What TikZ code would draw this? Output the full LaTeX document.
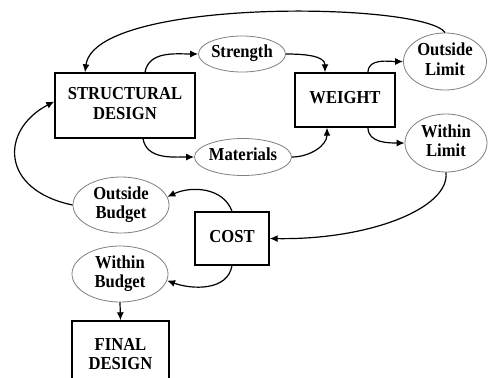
\documentclass[tikz,border=0pt]{standalone}
\usepackage{fontspec}
\usepackage{graphicx}
\setmainfont{Liberation Serif}
\usetikzlibrary{arrows.meta,shapes.geometric}
\newcommand\vtx[1]{\scalebox{1}[1.1]{\begin{tabular}{@{}c@{}}#1\end{tabular}}}
\begin{document}
\begin{tikzpicture}[x=1pt,y=-1pt,
  every node/.style={font=\fontsize{16.6}{18}\selectfont\bfseries, align=center, inner sep=0pt},
  boxnode/.style={draw=black, line width=1.4pt, rectangle},
  ellnode/.style={draw=black!50, line width=0.8pt, ellipse},
  conn/.style={draw=black, line width=1.2pt, -{Latex[length=8pt,width=7pt]}}]
\useasboundingbox (0,0) rectangle (488,378);
\clip (0,0) rectangle (488,378);
\fill[white] (0,0) rectangle (488,378);
% nodes
\node[boxnode, minimum width=140pt, minimum height=65pt] (sd) at (125,105.5) {\vtx{STRUCTURAL\\DESIGN}};
\node[boxnode, minimum width=100pt, minimum height=54pt] (w) at (345,100) {\vtx{WEIGHT}};
\node[boxnode, minimum width=74pt, minimum height=53pt] (cost) at (232,238.5) {\vtx{COST}};
\node[boxnode, minimum width=97pt, minimum height=70pt] (fd) at (120.5,356) {\vtx{FINAL\\DESIGN}};
\node[ellnode, minimum width=85pt, minimum height=36pt] (st) at (242,54) {\vtx{Strength}};
\node[ellnode, minimum width=97pt, minimum height=37pt] (ma) at (243,157) {\vtx{Materials}};
\node[ellnode, minimum width=83pt, minimum height=57pt] (ol) at (445,61.5) {\vtx{Outside\\Limit}};
\node[ellnode, minimum width=82pt, minimum height=58pt] (wl) at (446,143) {\vtx{Within\\Limit}};
\node[ellnode, minimum width=96pt, minimum height=54pt] (ob) at (121,205) {\vtx{Outside\\Budget}};
\node[ellnode, minimum width=96pt, minimum height=54pt] (wb) at (120,274) {\vtx{Within\\Budget}};
% connectors
\path[conn] (ol.north) .. controls (425,2) and (95,-3) .. ([xshift=-40pt]sd.north);
\path[conn] ([xshift=20pt]sd.north) to[out=80,in=180] (st.west);
\path[conn] (st.east) to[out=0,in=90] ([xshift=-20pt]w.north);
\path[conn] ([xshift=18pt]sd.south) to[out=-80,in=180] (ma.west);
\path[conn] (ma.east) to[out=0,in=-90] ([xshift=-18pt]w.south);
\path[conn] ([xshift=23pt]w.north) to[out=90,in=180] (ol.west);
\path[conn] ([xshift=23pt]w.south) to[out=-90,in=180] (wl.west);
\path[conn] (wl.south) .. controls (450,208) and (370,240) .. (cost.east);
\path[conn] (ob.west) .. controls (0,190) and (0,130) .. ([yshift=4pt]sd.west);
\path[conn] (cost.north) to[out=110,in=25] (ob.10);
\path[conn] (cost.south) to[out=-100,in=-20] (wb.-8);
\path[conn] (wb.south) -- (fd.north);
\end{tikzpicture}
\end{document}
